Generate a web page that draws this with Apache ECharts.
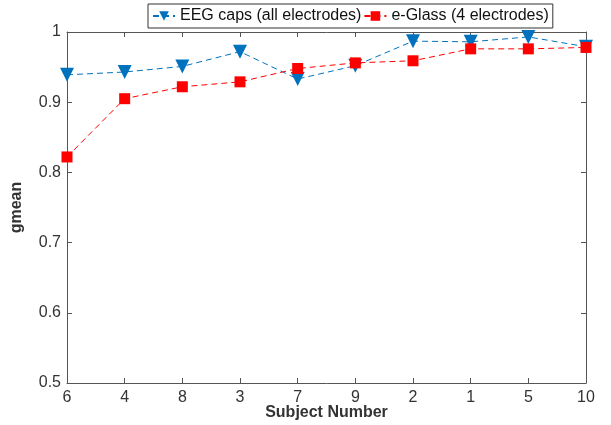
<!DOCTYPE html>
<html>
<head>
<meta charset="UTF-8">
<title>gmean per subject</title>
<script src="https://cdn.jsdelivr.net/npm/echarts@6/dist/echarts.min.js"></script>
</head>
<body style="margin:0">
<div id="main" style="width:611px;height:425px;"></div>
<script type="text/javascript">
var subjects = ['6', '4', '8', '3', '7', '9', '2', '1', '5', '10'];
var eegCaps = [0.939, 0.943, 0.951, 0.972, 0.933, 0.952, 0.987, 0.986, 0.993, 0.979];
var eGlass = [0.822, 0.905, 0.922, 0.929, 0.948, 0.956, 0.959, 0.976, 0.976, 0.978];
var yTicks = [0.5, 0.6, 0.7, 0.8, 0.9, 1];

var myChart = echarts.init(document.getElementById('main'));
var axisCol = '#555555';
var font = 'Liberation Sans, Arial, sans-serif';

var option = {
    animation: false,
    textStyle: { fontFamily: font },
    legend: {
        left: 148,
        top: 4,
        padding: [4, 4, 4, 4],
        itemGap: 2,
        itemWidth: 22,
        itemHeight: 12,
        borderColor: '#333',
        borderWidth: 1,
        backgroundColor: '#fff',
        textStyle: { fontSize: 16, color: '#111', fontFamily: font }
    },
    grid: { left: 67, right: 25, top: 32, bottom: 42, outerBoundsMode: 'none' },
    xAxis: [{
        type: 'category',
        data: subjects,
        boundaryGap: false,
        name: 'Subject Number',
        nameLocation: 'middle',
        nameGap: 22,
        nameMoveOverlap: false,
        nameTextStyle: { fontSize: 16, fontWeight: 'bold', color: '#333' },
        axisLine: { lineStyle: { color: axisCol } },
        axisTick: { inside: true, length: 5, lineStyle: { color: axisCol } },
        axisLabel: { fontSize: 16, color: '#333', margin: 7 },
        splitLine: { show: false }
    }, {
        type: 'category',
        data: subjects,
        boundaryGap: false,
        position: 'top',
        axisLine: { lineStyle: { color: axisCol } },
        axisTick: { inside: true, length: 5, lineStyle: { color: axisCol } },
        axisLabel: { show: false }
    }],
    yAxis: [{
        type: 'value',
        min: 0.5,
        max: 1,
        interval: 0.1,
        name: 'gmean',
        nameLocation: 'middle',
        nameGap: 42,
        nameMoveOverlap: false,
        nameTextStyle: { fontSize: 16, fontWeight: 'bold', color: '#333' },
        axisLine: { show: true, lineStyle: { color: axisCol } },
        axisTick: { show: true, inside: true, length: 5, lineStyle: { color: axisCol } },
        axisLabel: {
            fontSize: 16, color: '#333', margin: 6,
            formatter: function (v) {
                var t = yTicks.find(function (k) { return Math.abs(k - v) < 1e-6; });
                return t === undefined ? '' : String(t);
            }
        },
        splitLine: { show: false }
    }, {
        type: 'value',
        min: 0.5,
        max: 1,
        interval: 0.1,
        position: 'right',
        axisLine: { show: true, lineStyle: { color: axisCol } },
        axisTick: { show: true, inside: true, length: 5, lineStyle: { color: axisCol } },
        axisLabel: { show: false },
        splitLine: { show: false }
    }],
    series: [{
        name: 'EEG caps (all electrodes)',
        type: 'line',
        data: eegCaps,
        symbol: 'triangle',
        symbolRotate: 180,
        symbolSize: 14,
        itemStyle: { color: '#0072BD' },
        lineStyle: { color: '#0072BD', width: 1, type: [6, 4] }
    }, {
        name: 'e-Glass (4 electrodes)',
        type: 'line',
        data: eGlass,
        symbol: 'rect',
        symbolSize: 11,
        itemStyle: { color: '#FF0000' },
        lineStyle: { color: '#FF0000', width: 1, type: [6, 4] }
    }]
};

myChart.setOption(option);
</script>
</body>
</html>
